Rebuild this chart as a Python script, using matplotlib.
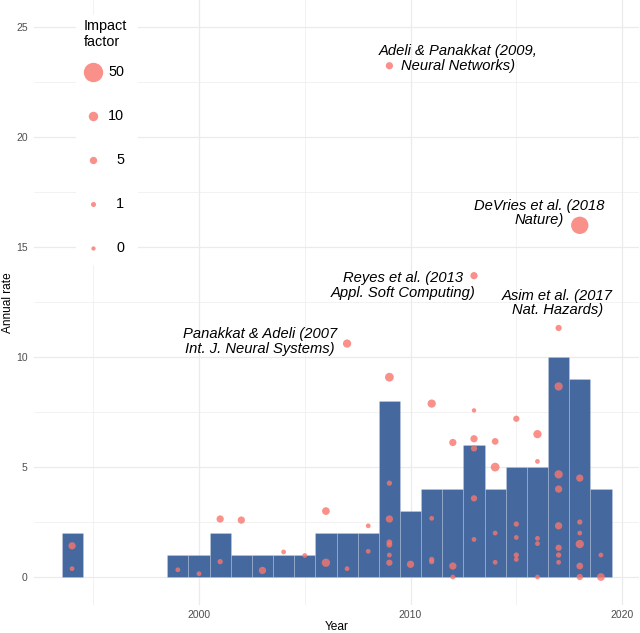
import matplotlib
matplotlib.use("Agg")
import matplotlib.pyplot as plt
from matplotlib.ticker import MultipleLocator

plt.rcParams['font.family'] = ['Liberation Sans', 'DejaVu Sans']

# papers per year (bars)
bar_years = [1994, 1999, 2000, 2001, 2002, 2003, 2004, 2005, 2006, 2007, 2008,
             2009, 2010, 2011, 2012, 2013, 2014, 2015, 2016, 2017, 2018, 2019]
bar_counts = [2, 1, 1, 2, 1, 1, 1, 1, 2, 2, 2,
              8, 3, 4, 4, 6, 4, 5, 5, 10, 9, 4]

# single papers: year, annual citation rate, journal impact factor
pt_year = [1994, 1994,
           1999, 2000,
           2001, 2001, 2002, 2003, 2004, 2005,
           2006, 2006, 2007, 2007, 2008, 2008,
           2009, 2009, 2009, 2009, 2009, 2009, 2009, 2009,
           2010,
           2011, 2011, 2011, 2011,
           2012, 2012, 2012,
           2013, 2013, 2013, 2013, 2013, 2013,
           2014, 2014, 2014, 2014,
           2015, 2015, 2015, 2015, 2015,
           2016, 2016, 2016, 2016, 2016,
           2017, 2017, 2017, 2017, 2017, 2017, 2017, 2017,
           2018, 2018, 2018, 2018, 2018, 2018, 2018,
           2019, 2019]
pt_rate = [1.42, 0.38,
           0.33, 0.15,
           2.64, 0.70, 2.59, 0.30, 1.14, 0.98,
           3.00, 0.65, 10.62, 0.38, 2.33, 1.17,
           23.26, 9.09, 4.27, 2.64, 1.58, 1.47, 1.00, 0.65,
           0.58,
           7.89, 2.67, 0.80, 0.70,
           6.12, 0.50, 0.00,
           13.71, 7.58, 6.29, 5.85, 3.58, 1.71,
           6.17, 5.00, 2.00, 0.67,
           7.20, 2.41, 1.80, 1.00, 0.80,
           6.50, 5.26, 1.76, 1.52, 0.00,
           11.33, 8.67, 4.67, 4.00, 2.33, 1.33, 1.00, 0.67,
           16.00, 4.50, 2.50, 2.00, 1.50, 0.50, 0.00,
           1.00, 0.00]
pt_if = [4.8, 0.6,
         0.6, 0.6,
         4.8, 1.3, 4.8, 4.8, 0.6, 0.6,
         5.8, 7.0, 7.0, 0.6, 0.6, 0.6,
         4.8, 8.2, 1.3, 4.8, 2.1, 2.1, 0.6, 2.9,
         4.8,
         7.0, 0.6, 1.3, 1.3,
         4.8, 4.8, 0.6,
         4.8, 0.1, 4.8, 2.9, 2.9, 0.6,
         3.8, 8.2, 0.6, 0.6,
         2.9, 1.3, 0.6, 1.3, 0.6,
         7.0, 0.6, 0.6, 0.6, 0.6,
         2.9, 7.0, 7.0, 4.8, 4.8, 2.9, 1.3, 0.6,
         39.6, 4.8, 1.3, 0.6, 7.0, 3.8, 2.9,
         0.6, 5.8]

# labelled papers
lab_text = ["Adeli & Panakkat (2009,\nNeural Networks)",
            "DeVries et al. (2018\nNature)",
            "Reyes et al. (2013\nAppl. Soft Computing)",
            "Asim et al. (2017\nNat. Hazards)",
            "Panakkat & Adeli (2007\nInt. J. Neural Systems)"]
lab_x = [2012.25, 2016.07, 2009.67, 2016.93, 2002.88]
lab_y = [23.6, 16.57, 13.27, 12.46, 10.72]

legend_if = [50, 10, 5, 1, 0]

BAR = '#45699F'
PT = '#F8766D'
GRID = '#EBEBEB'


def size_of(v):
    # marker area grows linearly with impact factor
    return 9.5 + 3.7 * v


fig = plt.figure(figsize=(6.4, 6.33), dpi=100)
ax = fig.add_axes([34 / 640, 1 - 604.5 / 633, 605 / 640, 604.5 / 633])

ax.bar(bar_years, bar_counts, width=1.0, color=BAR,
       edgecolor=(1, 1, 1, 0.2), linewidth=0.6, zorder=2)
ax.scatter(pt_year, pt_rate, s=[size_of(v) for v in pt_if],
           color=PT, alpha=0.8, linewidths=0, zorder=3)

for t, x, y in zip(lab_text, lab_x, lab_y):
    ax.text(x, y, t, ha='center', va='center', fontsize=10.6,
            style='italic', linespacing=1.05, zorder=4)

ax.set_xlim(1992.2, 2020.8)
ax.set_ylim(-1.25, 26.25)
ax.xaxis.set_major_locator(MultipleLocator(10))
ax.xaxis.set_minor_locator(MultipleLocator(5))
ax.yaxis.set_major_locator(MultipleLocator(5))
ax.yaxis.set_minor_locator(MultipleLocator(2.5))
ax.grid(which='major', color=GRID, linewidth=0.9)
ax.grid(which='minor', color=GRID, linewidth=0.45)
ax.set_axisbelow(True)
for s in ax.spines.values():
    s.set_visible(False)
ax.tick_params(which='both', length=0, labelsize=7.5, labelcolor='#4D4D4D')
ax.tick_params(axis='x', pad=4)
ax.tick_params(axis='y', pad=4.5)

ax.set_xlabel('Year', fontsize=8.6, va='center')
ax.xaxis.set_label_coords(0.5, -0.037)
ax.set_ylabel('Annual rate', fontsize=8.6, va='center')
ax.yaxis.set_label_coords(-0.043, 0.5)

# legend box drawn in pixel units
lg = fig.add_axes([76 / 640, 1 - 265 / 633, 62 / 640, 250 / 633])
lg.set_xlim(0, 62)
lg.set_ylim(250, 0)
lg.axis('off')
lg.add_patch(plt.Rectangle((0, 0), 62, 250, color='white', zorder=0))
lg.text(8, 19, 'Impact\nfactor', ha='left', va='center', fontsize=10.4,
        linespacing=1.2)
for i, v in enumerate(legend_if):
    yy = 57 + 44 * i
    lg.scatter([17], [yy], s=size_of(v), color=PT, alpha=0.8, linewidths=0)
    lg.text(48, yy, str(v), ha='right', va='center', fontsize=10.4)

fig.savefig('out.png', dpi=100)
